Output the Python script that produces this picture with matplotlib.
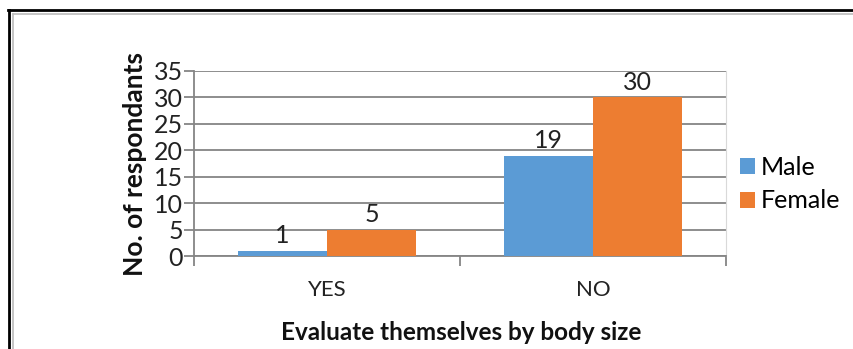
import numpy as np
import matplotlib.pyplot as plt
from matplotlib.lines import Line2D

plt.rcParams['font.family'] = ['Lato', 'DejaVu Sans']

categories = ['YES', 'NO']
male = [1, 19]
female = [5, 30]
series_names = ['Male', 'Female']
yticks = [0, 5, 10, 15, 20, 25, 30, 35]

W, H = 854, 349
fig = plt.figure(figsize=(W / 100, H / 100), dpi=100)
fig.patch.set_facecolor('white')

# plot area in pixels: left 194, right 726, top 71, bottom 256
ax = fig.add_axes([194 / W, (H - 256) / H, (726 - 194) / W, (256 - 71) / H])

x = np.arange(len(categories))
bw = 0.334
b1 = ax.bar(x - bw / 2, male, bw, color='#5B9BD5', label=series_names[0], zorder=3)
b2 = ax.bar(x + bw / 2, female, bw, color='#ED7D31', label=series_names[1], zorder=3)

for bars, vals in [(b1, male), (b2, female)]:
    for rect, v in zip(bars, vals):
        ax.annotate(str(v), (rect.get_x() + rect.get_width() / 2, v),
                    xytext=(0, 2.5), textcoords='offset points',
                    ha='center', va='bottom', fontsize=18, color='#222222')

ax.set_xlim(-0.5, len(categories) - 0.5)
ax.set_ylim(0, 35)
ax.set_yticks(yticks)
ax.yaxis.grid(True, color='#858585', linewidth=1.3, zorder=0)
ax.set_axisbelow(True)

# category separators as major ticks, labels on minor ticks
ax.set_xticks(np.arange(len(categories) + 1) - 0.5)
ax.set_xticklabels([])
ax.set_xticks(x, minor=True)
ax.set_xticklabels(categories, minor=True, fontsize=16, color='#222222')
ax.tick_params(axis='x', which='major', length=7, width=1.3, color='#858585', direction='out')
ax.tick_params(axis='x', which='minor', length=0, pad=17)
ax.tick_params(axis='y', length=7, width=1.3, color='#858585', labelsize=18,
               labelcolor='#222222', pad=1)

ax.spines['top'].set_visible(False)
ax.spines['right'].set_color('#d9d9d9')
ax.spines['right'].set_linewidth(0.8)
for s in ['left', 'bottom']:
    ax.spines[s].set_color('#858585')
    ax.spines[s].set_linewidth(1.3)

ax.set_ylabel('No. of respondants', fontsize=19, fontweight='bold', labelpad=5, color='#111111')
fig.text(461 / W, 1 - 332 / H, 'Evaluate themselves by body size', ha='center', va='center',
         fontsize=17.5, fontweight='bold', color='#111111')

fig.legend(handles=[b1, b2], loc='upper left', bbox_to_anchor=(740 / W, 1 - 156 / H),
           frameon=False, fontsize=18, handlelength=0.6, handleheight=0.6,
           handletextpad=0.25, labelspacing=0.42, borderaxespad=0, borderpad=0)

# frame lines along the top and left edge
fig.add_artist(Line2D([8 / W, 1], [1 - 10 / H, 1 - 10 / H], color='black', linewidth=2))
fig.add_artist(Line2D([9 / W, 9 / W], [0, 1 - 10 / H], color='black', linewidth=2))
fig.add_artist(Line2D([13 / W, 1], [1 - 13.5 / H, 1 - 13.5 / H], color='#bbbbbb', linewidth=1.2))
fig.add_artist(Line2D([13 / W, 13 / W], [0, 1 - 13.5 / H], color='#bbbbbb', linewidth=1.2))

fig.savefig('out.png', dpi=100)
